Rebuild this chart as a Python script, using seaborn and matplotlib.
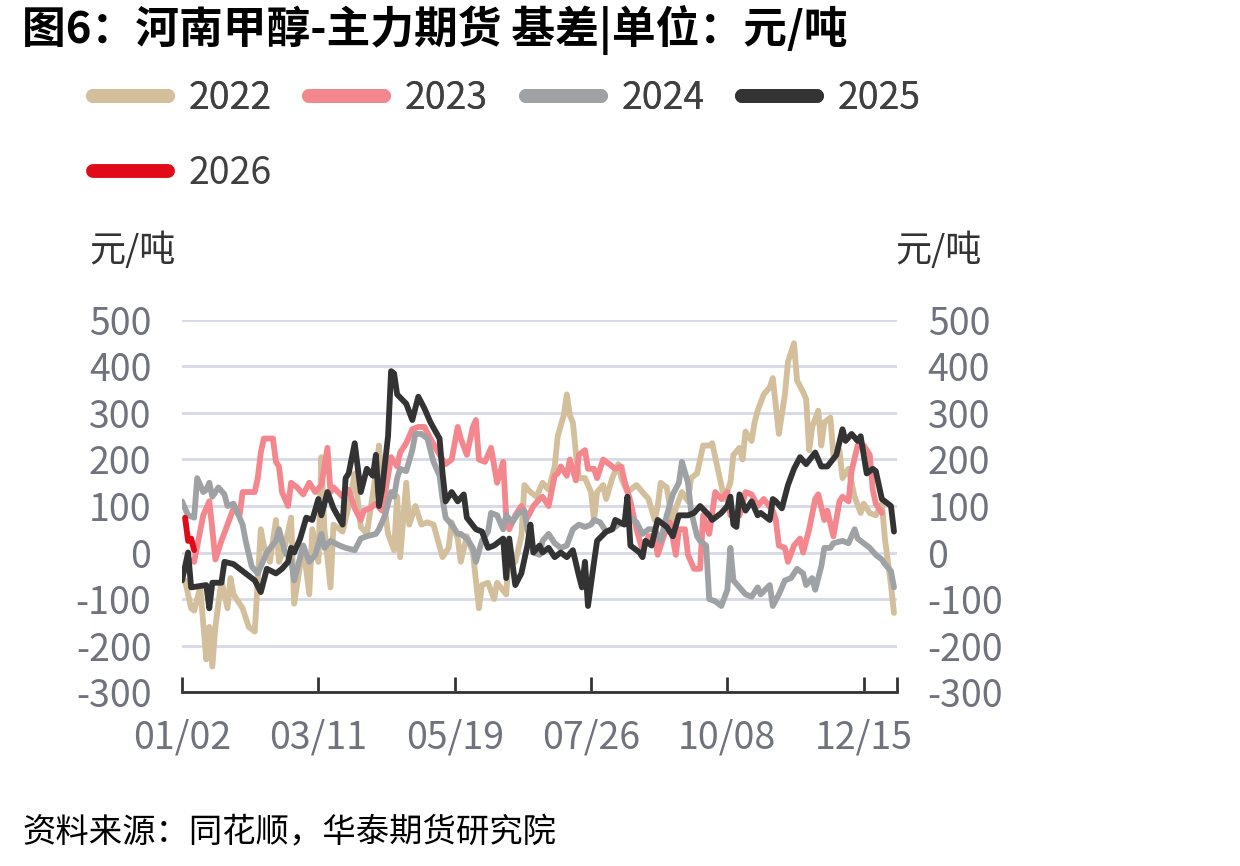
import pandas as pd
import matplotlib
matplotlib.use("Agg")
import matplotlib.pyplot as plt
import seaborn as sns
from matplotlib.lines import Line2D

sns.set_theme(style="white")
plt.rcParams['font.family'] = ['Noto Sans CJK SC', 'DejaVu Sans']
plt.rcParams['axes.unicode_minus'] = False

# 数据：横轴为交易日序号，纵轴为基差（元/吨）
x_2022 = [1, 3, 4, 6, 8, 9, 10, 11, 13, 15, 16, 17, 20, 22, 24, 26, 27, 29, 31, 32, 34, 36, 37, 40, 42, 43, 45, 46, 47, 49,
          50, 53, 55, 57, 59, 61, 64, 65, 66, 68, 70, 71, 72, 74, 75, 77, 79, 81, 83, 86, 88, 89, 91, 92, 94, 96, 98, 99, 101, 103,
          104, 107, 108, 110, 112, 113, 115, 117, 119, 121, 123, 124, 126, 127, 128, 129, 130, 131, 133, 135, 136, 137, 139, 140, 142, 144, 145, 147, 150, 152,
          154, 156, 157, 158, 160, 162, 163, 165, 167, 168, 170, 171, 172, 174, 175, 177, 179, 181, 182, 184, 185, 186, 188, 189, 190, 192, 194, 195, 197, 199,
          200, 202, 203, 205, 206, 207, 208, 210, 211, 212, 214, 215, 217, 218, 220, 222, 224, 225, 227, 229, 231, 232, 234, 235]
v_2022 = [-60, -120, -125, -75, -230, -160, -245, -160, -60, -120, -55, -90, -120, -160, -170, 50, 15, -20, 70, -20, 15, 75, -110, 15, -90, 50, -20, 205, 50, -75,
          60, 45, 100, 170, 55, 40, 170, 230, 140, 40, 5, 120, -10, 150, 60, 100, 60, 65, 60, -10, 10, 65, 30, -20, 35, 0, -120, -70, -65, -100,
          -65, -90, 5, -20, 35, 145, 130, 120, 150, 135, 185, 250, 295, 340, 295, 280, 215, 160, 160, 130, 70, 130, 145, 115, 160, 190, 160, 130, 145, 130,
          115, 70, 100, 150, 140, 60, 95, 130, 110, 160, 170, 200, 230, 230, 235, 175, 115, 150, 210, 225, 200, 260, 240, 280, 305, 340, 355, 375, 255, 340,
          410, 450, 370, 345, 330, 220, 270, 305, 230, 280, 290, 210, 220, 160, 180, 120, 85, 105, 85, 80, 105, 30, -70, -130]

x_2023 = [2, 4, 7, 9, 10, 11, 13, 15, 17, 19, 20, 24, 25, 26, 27, 30, 31, 32, 33, 35, 36, 38, 40, 42, 44, 46, 48, 49, 50, 53,
          55, 57, 59, 60, 62, 64, 66, 68, 69, 71, 72, 74, 76, 78, 80, 82, 85, 87, 89, 91, 92, 94, 96, 97, 98, 100, 102, 104, 106, 107,
          108, 110, 112, 114, 116, 118, 119, 121, 123, 124, 125, 127, 128, 130, 131, 133, 134, 136, 137, 139, 141, 143, 145, 146, 148, 150, 152, 154, 156, 157,
          159, 161, 163, 164, 166, 167, 169, 171, 172, 174, 176, 178, 180, 181, 184, 186, 188, 190, 192, 195, 196, 197, 199, 200, 202, 204, 205, 207, 209, 210,
          212, 213, 215, 217, 218, 220, 221, 223, 225, 227, 228, 229, 231]
v_2023 = [-15, -20, 80, 110, 50, -15, 25, 60, 95, 80, 130, 130, 160, 215, 245, 245, 195, 185, 130, 100, 150, 140, 125, 150, 130, 145, 225, 130, 140, 120,
          135, 95, 70, 90, 95, 105, 90, 165, 205, 185, 215, 235, 265, 270, 270, 245, 210, 190, 200, 270, 245, 210, 270, 285, 200, 195, 225, 150, 195, 75,
          50, 80, 100, 75, 100, 115, 120, 100, 165, 170, 185, 165, 200, 155, 210, 220, 180, 180, 160, 200, 190, 180, 185, 155, 110, 50, 5, 35, 35, -5,
          35, 65, -5, 50, 50, -5, -35, -35, 80, 40, 130, 115, 130, 80, 80, 130, 125, 100, 115, 90, 70, 15, 10, -20, 15, 30, 0, 50, 115, 125,
          70, 90, 35, 110, 120, 110, 175, 230, 230, 210, 135, 105, 85]

x_2024 = [0, 2, 4, 5, 7, 8, 9, 10, 12, 14, 15, 17, 20, 21, 23, 25, 26, 28, 31, 32, 34, 36, 37, 40, 42, 44, 46, 47, 49, 52,
          54, 57, 59, 61, 64, 65, 67, 69, 70, 71, 72, 74, 76, 77, 79, 81, 83, 85, 86, 87, 89, 91, 92, 94, 96, 97, 99, 101, 102, 104,
          106, 107, 109, 111, 113, 114, 116, 118, 119, 121, 123, 125, 127, 129, 131, 133, 135, 136, 138, 140, 142, 144, 146, 147, 150, 152, 154, 156, 158, 160,
          162, 164, 165, 167, 168, 170, 171, 173, 174, 176, 178, 180, 181, 182, 184, 186, 188, 190, 191, 194, 195, 197, 199, 201, 203, 205, 206, 208, 209, 211,
          212, 214, 215, 218, 220, 222, 223, 225, 227, 229, 231, 232, 234, 235]
v_2024 = [110, 80, 75, 160, 130, 135, 150, 120, 140, 125, 100, 105, 60, 25, -30, -45, -30, 0, 25, 50, 0, -15, -60, 15, -20, -5, 40, 10, 25, 15,
          10, 5, 30, 35, 40, 50, 80, 130, 120, 160, 180, 175, 220, 255, 255, 245, 195, 165, 115, 75, 60, 40, 40, 30, 10, -20, 25, 45, 85, 80,
          50, 80, 65, 85, 90, 50, 0, -5, 25, 40, 20, 10, 15, 50, 60, 55, 60, 70, 65, 45, 50, 60, 65, 80, 65, 40, 50, 50, 25, 80,
          125, 150, 195, 150, 90, 35, 25, 15, -100, -105, -115, -80, 10, -60, -75, -90, -95, -75, -90, -70, -115, -90, -60, -55, -35, -45, -70, -55, -80, -30,
          10, 10, 20, 25, 20, 50, 30, 20, 10, -5, -15, -25, -40, -75]

x_2025 = [0, 2, 3, 8, 9, 10, 13, 14, 17, 24, 26, 28, 31, 33, 35, 36, 37, 39, 41, 43, 45, 46, 48, 50, 53, 54, 55, 57, 59, 61,
          63, 64, 65, 66, 68, 69, 70, 71, 74, 76, 78, 80, 82, 85, 86, 87, 89, 91, 93, 94, 97, 99, 101, 103, 106, 107, 108, 110, 112, 114,
          115, 116, 118, 119, 121, 123, 125, 127, 129, 131, 132, 133, 134, 136, 137, 140, 142, 143, 146, 147, 148, 151, 152, 153, 155, 157, 158, 160, 162, 164,
          167, 169, 171, 174, 175, 178, 180, 181, 182, 183, 184, 186, 188, 190, 191, 194, 195, 196, 198, 200, 202, 204, 206, 209, 211, 213, 216, 218, 219, 221,
          223, 224, 226, 228, 229, 231, 233, 234, 235]
v_2025 = [-60, 0, -75, -70, -120, -65, -65, -20, -25, -60, -85, -35, -45, -35, -20, 10, 0, 30, 75, 70, 115, 80, 130, 95, 60, 160, 170, 235, 130, 180,
          165, 210, 100, 135, 250, 390, 385, 340, 320, 285, 335, 310, 280, 245, 170, 110, 130, 110, 125, 75, 50, 45, 10, 15, 30, -55, 30, -70, -45, 15,
          60, 0, 15, 0, 10, -10, 0, -10, 5, -50, -75, -20, -115, -20, 25, 45, 50, 70, 60, 120, 15, 0, -10, 25, 15, 70, 65, 55, 35, 80,
          80, 85, 100, 80, 70, 85, 100, 120, 60, 55, 125, 90, 110, 80, 85, 70, 115, 110, 95, 145, 180, 205, 190, 215, 185, 185, 210, 265, 240, 255,
          240, 250, 170, 180, 175, 115, 105, 100, 45]

x_2026 = [1, 2, 3, 4]
v_2026 = [75, 25, 30, 5]

years = ['2022', '2023', '2024', '2025', '2026']
colors = ['#D3BF9C', '#F3878D', '#9FA2A5', '#333333', '#E00A18']
tick_pos = [0, 45, 90, 135, 180, 225, 236]
tick_labels = ['01/02', '03/11', '05/19', '07/26', '10/08', '12/15', '']

frames = []
for yr, xs, vs in zip(years, [x_2022, x_2023, x_2024, x_2025, x_2026],
                      [v_2022, v_2023, v_2024, v_2025, v_2026]):
    frames.append(pd.DataFrame({'idx': xs, 'value': vs, 'year': yr}))
df = pd.concat(frames, ignore_index=True)

fig = plt.figure(figsize=(12.4, 8.66), dpi=100)
ax = fig.add_axes([0.1468, 0.2009, 0.5766, 0.4296])

sns.lineplot(data=df, x='idx', y='value', hue='year', hue_order=years,
             palette=dict(zip(years, colors)), linewidth=4.2, legend=False, ax=ax)

ax.set_xlim(0, 236)
ax.set_ylim(-300, 500)
ax.set_yticks(range(-300, 501, 100))
ax.grid(axis='y', color='#D6D9E6', linewidth=2)
ax.grid(axis='x', visible=False)
ax.set_xticks(tick_pos)
ax.set_xticklabels(tick_labels)
ax.set_xlabel('')
ax.set_ylabel('')
for s in ['top', 'left', 'right']:
    ax.spines[s].set_visible(False)
ax.spines['bottom'].set_color('#333333')
ax.spines['bottom'].set_linewidth(2)
ax.tick_params(axis='x', direction='in', length=11, width=2, color='#333333',
               labelsize=27, labelcolor='#70727E', pad=19, bottom=True)
ax.tick_params(axis='y', length=0, labelsize=27, labelcolor='#70727E',
               labelleft=True, labelright=True, pad=22)

# 标题、单位、来源
fig.text(0.018, 0.965, '图6：河南甲醇-主力期货 基差|单位：元/吨', fontsize=31.5,
         fontweight='bold', color='black', va='center', ha='left')
fig.text(0.072, 0.711, '元/吨', fontsize=26, color='#333333', va='center', ha='left')
fig.text(0.722, 0.711, '元/吨', fontsize=26, color='#333333', va='center', ha='left')
fig.text(0.018, 0.038, '资料来源：同花顺，华泰期货研究院', fontsize=24, style='italic',
         color='black', va='center', ha='left')

# 图例
handles = [Line2D([0], [0], color=c, linewidth=10, solid_capstyle='round') for c in colors]
leg1 = fig.legend(handles[:4], years[:4], loc='center left', bbox_to_anchor=(0.075, 0.886),
                  ncol=4, frameon=False, fontsize=27, handlelength=2.0, handletextpad=0.55,
                  columnspacing=1.0, labelcolor='#404040', borderaxespad=0, borderpad=0)
fig.add_artist(leg1)
fig.legend(handles[4:], years[4:], loc='center left', bbox_to_anchor=(0.075, 0.800),
           frameon=False, fontsize=27, handlelength=2.0, handletextpad=0.55,
           labelcolor='#404040', borderaxespad=0, borderpad=0)

fig.savefig('out.png', dpi=100)
